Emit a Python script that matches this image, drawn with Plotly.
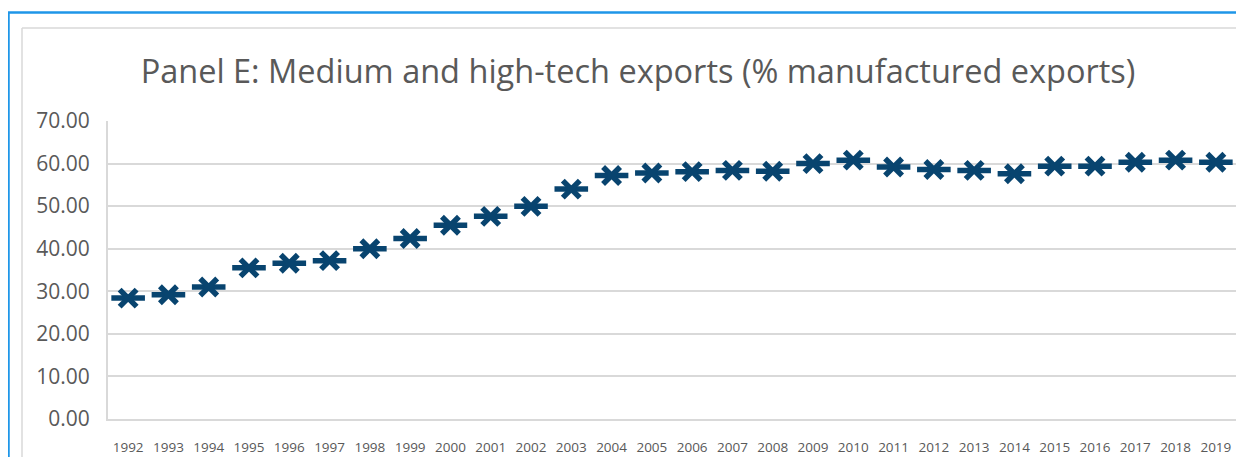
import plotly.graph_objects as go

years = [str(y) for y in range(1992, 2020)]
values = [28.4, 29.2, 31.0, 35.5, 36.6, 37.2, 40.0, 42.4, 45.5, 47.6,
          49.95, 54.0, 57.2, 57.8, 58.1, 58.4, 58.2, 60.0, 60.8, 59.2,
          58.6, 58.4, 57.6, 59.4, 59.4, 60.3, 60.8, 60.3]
y_ticks = [0, 10, 20, 30, 40, 50, 60, 70]

# page has an 8px body margin; work in page pixels and convert
OFF = 8
W, H = 1244 - 2 * OFF, 465 - 2 * OFF
L, T = 108 - OFF, 121 - OFF
R = W - (1236 - OFF)
B = H - (419 - OFF)
pw, ph = W - L - R, H - T - B

def px(x):  # page x -> plot paper
    return (x - OFF - L) / pw

def py(y):  # page y -> plot paper
    return (H - B - (y - OFF)) / ph

marker_color = "#08446F"
grey = "#595959"
grid = "#D9D9D9"

fig = go.Figure()
fig.add_trace(go.Scatter(
    x=years, y=values, mode="markers",
    marker=dict(symbol="line-ew-open", size=24, color=marker_color,
                line=dict(color=marker_color, width=5.5)),
    hoverinfo="skip", showlegend=False))
fig.add_trace(go.Scatter(
    x=years, y=values, mode="markers",
    marker=dict(symbol="x-thin-open", size=17, color=marker_color,
                line=dict(color=marker_color, width=5.5)),
    showlegend=False))

fig.update_layout(
    width=W, height=H,
    margin=dict(l=L, r=R, t=T, b=B),
    paper_bgcolor="white", plot_bgcolor="white",
    title=dict(text="Panel E: Medium and high-tech exports (% manufactured exports)",
               xref="container", x=(638 - OFF) / W, xanchor="center",
               yref="container", y=1 - (72 - OFF) / H, yanchor="middle",
               font=dict(family="Open Sans", size=32.5, color=grey)),
    xaxis=dict(type="category", range=[-0.5, len(years) - 0.5],
               showgrid=False, showline=True, linecolor=grid, linewidth=2,
               ticks="", ticklabelstandoff=15,
               tickfont=dict(family="Open Sans", size=13.5, color=grey),
               fixedrange=True),
    yaxis=dict(range=[0, 70], tickvals=y_ticks, tickformat=".2f",
               showgrid=True, gridcolor=grid, gridwidth=1.5,
               showline=True, linecolor=grid, linewidth=2, zeroline=False,
               ticks="", ticklabelstandoff=12,
               tickfont=dict(family="Open Sans", size=21, color=grey),
               fixedrange=True),
    shapes=[
        dict(type="line", xref="paper", yref="paper",
             x0=px(22), x1=px(1250), y0=py(28), y1=py(28),
             line=dict(color="#D9D9D9", width=1.5)),
        dict(type="line", xref="paper", yref="paper",
             x0=px(22), x1=px(22), y0=py(28), y1=py(470),
             line=dict(color="#D9D9D9", width=1.5)),
        dict(type="line", xref="paper", yref="paper",
             x0=px(8), x1=px(1250), y0=py(12.5), y1=py(12.5),
             line=dict(color="#1E96E8", width=2.5)),
        dict(type="line", xref="paper", yref="paper",
             x0=px(8.5), x1=px(8.5), y0=py(12.5), y1=py(470),
             line=dict(color="#1E96E8", width=2.5)),
    ],
)

fig.write_html("out.html")
